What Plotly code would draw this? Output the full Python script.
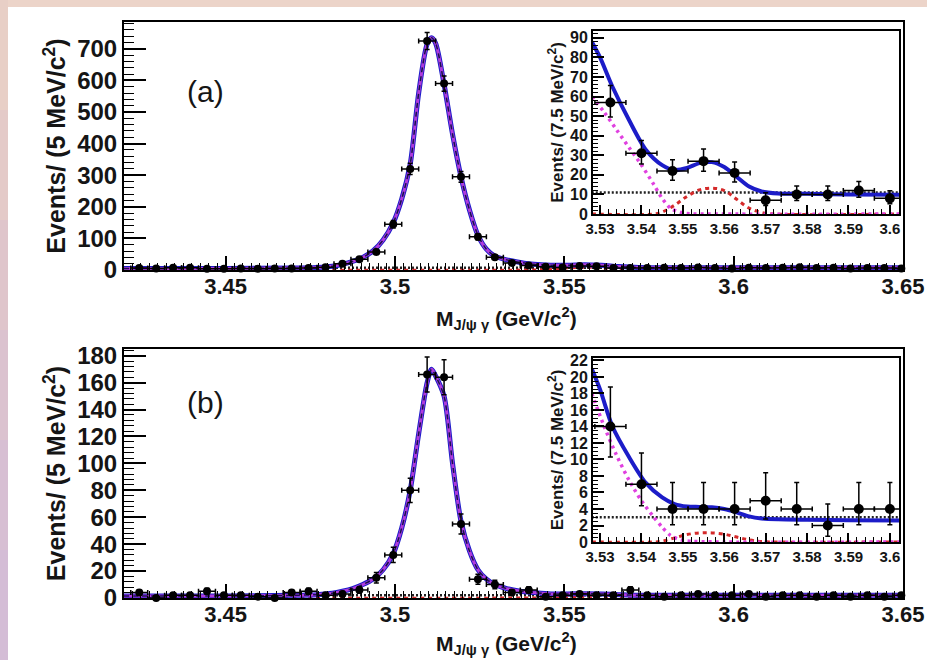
import plotly.graph_objects as go

# ---------------- data ----------------
# main panels: 5 MeV bins
bins5 = [3.4245, 3.4295, 3.4345, 3.4395, 3.4445, 3.4495, 3.4545, 3.4595, 3.4645, 3.4695,
         3.4745, 3.4795, 3.4845, 3.4895, 3.4945, 3.4995, 3.5045, 3.5095, 3.5145, 3.5195,
         3.5245, 3.5295, 3.5345, 3.5395, 3.5445, 3.5495, 3.5545, 3.5595, 3.5645, 3.5695,
         3.5745, 3.5795, 3.5845, 3.5895, 3.5945, 3.5995, 3.6045, 3.6095, 3.6145, 3.6195,
         3.6245, 3.6295, 3.6345, 3.6395, 3.6445, 3.6495]

counts_a = [6, 5, 7, 7, 4, 4, 5, 4, 5, 5, 6, 9,
            20, 34, 57, 145, 320, 725, 590, 295, 105, 40,
            22, 14, 10, 8, 13, 12, 6, 6,
            6, 7, 6, 8, 6, 5, 7, 6, 7, 9, 6, 7, 5, 6, 6, 5]
err_a = [2.4, 2.2, 2.6, 2.6, 2.0, 2.0, 2.2, 2.0, 2.2, 2.2, 2.4, 3.0,
         4.5, 5.8, 7.5, 12, 18, 27, 24, 17, 10, 6.3,
         4.7, 3.7, 3.2, 2.8, 3.6, 3.5, 2.4, 2.4,
         2.4, 2.6, 2.4, 2.8, 2.4, 2.2, 2.6, 2.4, 2.6, 3.0, 2.4, 2.6, 2.2, 2.4, 2.4, 2.2]

counts_b = [4, 0, 2, 2, 5, 2, 2, 1, 0, 4, 5, 2,
            3, 6, 15, 32, 80, 166, 164, 55, 14, 10,
            4, 6, 1, 2, 3, 2, 2, 6,
            2, 1, 2, 3, 2, 2, 3, 1, 2, 2, 1, 2, 1, 2, 1, 2]
err_b = [2.0, 1.1, 1.4, 1.4, 2.2, 1.4, 1.4, 1.0, 1.1, 2.0, 2.2, 1.4,
         1.7, 2.4, 3.9, 5.7, 9.0, 13, 13, 7.4, 3.7, 3.2,
         2.0, 2.4, 1.0, 1.4, 1.7, 1.4, 1.4, 2.4,
         1.4, 1.0, 1.4, 1.7, 1.4, 1.4, 1.7, 1.0, 1.4, 1.4, 1.0, 1.4, 1.0, 1.4, 1.0, 1.4]

# fit curves, main panels
curve_x = [3.42, 3.45, 3.47, 3.477, 3.4815, 3.4845, 3.4875, 3.4905, 3.4935, 3.4965,
           3.4995, 3.502, 3.5045, 3.507, 3.5095, 3.5108, 3.512, 3.5145, 3.517, 3.5195,
           3.522, 3.5245, 3.527, 3.5295, 3.533, 3.537, 3.541, 3.546, 3.551, 3.556,
           3.561, 3.566, 3.572, 3.58, 3.61, 3.65]
curve_a = [5, 5, 6, 8, 12, 18, 27, 40, 60, 95,
           150, 225, 335, 560, 715, 735, 718, 588, 430, 295,
           190, 110, 66, 44, 32, 24, 18, 15, 15, 17,
           15, 11, 8, 7, 7, 7]
curve_b = [1.5, 1.5, 2, 2.5, 3.5, 5, 7, 10, 14, 21,
           33, 52, 80, 122, 160, 170, 165, 150, 100, 57,
           35, 21, 14, 10, 7, 5, 4, 3, 3, 3.2,
           3, 2.5, 2, 2, 2, 2]
sig2_x = [3.42, 3.54, 3.545, 3.55, 3.555, 3.558, 3.562, 3.567, 3.572, 3.65]
sig2_a = [0, 0, 1.5, 6, 8.7, 8.5, 6, 2, 0, 0]
sig2_b = [0, 0, 0.2, 0.6, 0.8, 0.8, 0.6, 0.2, 0, 0]
bkg_x = [3.42, 3.65]
bkg_a = [7, 7]
bkg_b = [2, 2]

# insets: 7.5 MeV bins
bins75 = [3.5325, 3.54, 3.5475, 3.555, 3.5625, 3.57, 3.5775, 3.585, 3.5925, 3.60]
ins_a = [57, 31, 22, 27, 21, 7, 10, 10, 12, 8]
ins_a_up = [8.6, 6.6, 5.7, 6.2, 5.6, 3.8, 4.3, 4.3, 4.6, 3.9]
ins_a_dn = [7.5, 5.5, 4.7, 5.2, 4.6, 2.6, 3.1, 3.1, 3.4, 2.8]
ins_b = [14, 7, 4, 4, 4, 5, 4, 2, 4, 4]
ins_b_up = [4.8, 3.8, 3.2, 3.2, 3.2, 3.4, 3.2, 2.6, 3.2, 3.2]
ins_b_dn = [3.7, 2.6, 1.9, 1.9, 1.9, 2.2, 1.9, 1.3, 1.9, 1.9]

ins_tot_x = [3.528, 3.530, 3.533, 3.537, 3.541, 3.545, 3.548, 3.551, 3.554, 3.557,
             3.560, 3.563, 3.566, 3.569, 3.573, 3.580, 3.590, 3.603]
ins_tot_a = [88, 80, 65, 48, 33, 25, 22.5, 23.5, 26, 26.5,
             24, 19, 14, 11.5, 10.5, 10.3, 10.0, 9.8]
ins_tot_b = [21, 18.5, 14, 10.3, 7.2, 5.4, 4.6, 4.3, 4.25, 4.2,
             4.0, 3.6, 3.1, 2.85, 2.75, 2.7, 2.65, 2.6]
ins_c1_x = [3.528, 3.531, 3.534, 3.537, 3.540, 3.543, 3.545, 3.547, 3.550, 3.560, 3.603]
ins_c1_a = [60, 52, 43, 34, 25, 15, 8, 3, 0.5, 0, 0]
ins_c1_b = [18, 14, 10.5, 7.5, 5, 3, 1.8, 0.8, 0.2, 0, 0]
ins_c2_x = [3.528, 3.543, 3.545, 3.548, 3.551, 3.554, 3.557, 3.560, 3.563, 3.566, 3.569, 3.572, 3.603]
ins_c2_a = [0, 0, 1, 4.5, 9, 12.3, 13.2, 12, 7.5, 3, 0.8, 0, 0]
ins_c2_b = [0, 0, 0.1, 0.5, 0.9, 1.1, 1.1, 0.95, 0.6, 0.25, 0.05, 0, 0]
ins_bkg_x = [3.528, 3.603]
ins_bkg_a = [11, 11]
ins_bkg_b = [3, 3]

main_ticks = [3.45, 3.5, 3.55, 3.6, 3.65]
main_ticktext = ["3.45", "3.5", "3.55", "3.6", "3.65"]
ins_ticks = [3.53, 3.54, 3.55, 3.56, 3.57, 3.58, 3.59, 3.6]
ins_ticktext = ["3.53", "3.54", "3.55", "3.56", "3.57", "3.58", "3.59", "3.6"]

# ---------------- figure ----------------
W, H = 927, 660
FONT = "Liberation Sans"
BLUE = "#1c1cc8"
MAGENTA = "#e040e0"
RED = "#d42a2a"
TXT = "#151515"

fig = go.Figure()


def px(v):
    return v / W


def py(v):
    return 1 - v / H


def add_curves(cx, cy, xa, ya, main, c1x=None, c1y=None, c2x=None, c2y=None, bx=None, by=None):
    common = dict(mode="lines", xaxis=xa, yaxis=ya, showlegend=False, hoverinfo="skip")
    if bx is not None:
        fig.add_trace(go.Scatter(x=bx, y=by, line=dict(color="#222222", width=2.5, dash="2px,2px"), **common))
    if c2x is not None:
        fig.add_trace(go.Scatter(x=c2x, y=c2y, line=dict(color=RED, width=3, dash="4px,4px", shape="spline"), **common))
    fig.add_trace(go.Scatter(x=cx, y=cy, line=dict(color=BLUE, width=5 if main else 4, shape="spline", smoothing=0.8), **common))
    if c1x is not None:
        fig.add_trace(go.Scatter(x=c1x, y=c1y, line=dict(color=MAGENTA, width=3.5, dash="3px,4px", shape="spline", smoothing=0.8), **common))
    if main:
        fig.add_trace(go.Scatter(x=cx, y=cy, line=dict(color="rgba(226,70,226,0.75)", width=3, shape="spline", smoothing=0.8), **common))
        fig.add_trace(go.Scatter(x=cx, y=cy, line=dict(color="#141450", width=1.5, dash="5px,4px", shape="spline", smoothing=0.8), **common))


def add_data(x, y, up, dn, xhalf, xa, ya, msize):
    fig.add_trace(go.Scatter(
        x=x, y=y, mode="markers", xaxis=xa, yaxis=ya, showlegend=False, cliponaxis=False,
        marker=dict(color="black", size=msize),
        error_x=dict(type="constant", value=xhalf, color="black", thickness=1.5, width=2.5),
        error_y=dict(type="data", array=up, arrayminus=dn, symmetric=False,
                     color="black", thickness=1.5, width=2.5)))


# main (a)
add_curves(curve_x, curve_a, "x", "y", True, c2x=sig2_x, c2y=sig2_a, bx=bkg_x, by=bkg_a)
add_data(bins5, counts_a, err_a, err_a, 0.0025, "x", "y", 8)
# inset (a)
add_curves(ins_tot_x, ins_tot_a, "x2", "y2", False, c1x=ins_c1_x, c1y=ins_c1_a,
           c2x=ins_c2_x, c2y=ins_c2_a, bx=ins_bkg_x, by=ins_bkg_a)
add_data(bins75, ins_a, ins_a_up, ins_a_dn, 0.00375, "x2", "y2", 10)
# main (b)
add_curves(curve_x, curve_b, "x3", "y3", True, c2x=sig2_x, c2y=sig2_b, bx=bkg_x, by=bkg_b)
add_data(bins5, counts_b, err_b, err_b, 0.0025, "x3", "y3", 8)
# inset (b)
add_curves(ins_tot_x, ins_tot_b, "x4", "y4", False, c1x=ins_c1_x, c1y=ins_c1_b,
           c2x=ins_c2_x, c2y=ins_c2_b, bx=ins_bkg_x, by=ins_bkg_b)
add_data(bins75, ins_b, ins_b_up, ins_b_dn, 0.00375, "x4", "y4", 10)

xtitle = "M<sub>J/ψ γ</sub> (GeV/c<sup>2</sup>)"


def axis_common():
    return dict(showgrid=False, zeroline=False, showline=True, linecolor="black", linewidth=2,
                mirror=True, ticks="inside", tickcolor="black", tickwidth=1.5)


def main_x(anchor):
    d = axis_common()
    d.update(domain=[px(124), px(903)], anchor=anchor, range=[3.42, 3.65],
             tickvals=main_ticks, ticktext=main_ticktext, ticklen=14, ticklabelstandoff=-4,
             minor=dict(ticks="inside", ticklen=7, dtick=0.0025, tickcolor="black", tickwidth=1),
             tickfont=dict(family=FONT, size=22, color=TXT, weight="bold"))
    return d


def main_y(anchor, dom, rng, dtick, minor, title):
    d = axis_common()
    d.update(domain=dom, anchor=anchor, range=rng, dtick=dtick, tick0=0, ticklen=22,
             minor=dict(ticks="inside", ticklen=10, dtick=minor, tickcolor="black", tickwidth=1),
             tickfont=dict(family=FONT, size=24, color=TXT, weight="bold"),
             title=dict(text=title, font=dict(family=FONT, size=25, color=TXT, weight="bold"), standoff=4))
    return d


def ins_x(anchor):
    d = axis_common()
    d.update(domain=[px(593), px(899)], anchor=anchor, range=[3.5283, 3.6022],
             tickvals=ins_ticks, ticktext=ins_ticktext, ticklen=9,
             minor=dict(ticks="inside", ticklen=5, dtick=0.002, tickcolor="black", tickwidth=1),
             tickfont=dict(family=FONT, size=15, color=TXT, weight="bold"))
    return d


def ins_y(anchor, dom, rng, dtick, minor, title):
    d = axis_common()
    d.update(domain=dom, anchor=anchor, range=rng, dtick=dtick, tick0=0, ticklen=11,
             minor=dict(ticks="inside", ticklen=5, dtick=minor, tickcolor="black", tickwidth=1),
             tickfont=dict(family=FONT, size=16, color=TXT, weight="bold"),
             title=dict(text=title, font=dict(family=FONT, size=17, color=TXT, weight="bold"), standoff=2))
    return d


ytitle_main = "Events/ (5 MeV/c<sup>2</sup>)"
ytitle_ins = "Events/ (7.5 MeV/c<sup>2</sup>)"

fig.update_layout(
    width=W, height=H, margin=dict(l=0, r=0, t=0, b=0),
    paper_bgcolor="white", plot_bgcolor="white", template="none",
    showlegend=False,
    xaxis=main_x("y"),
    yaxis=main_y("x", [py(270), py(22)], [0, 785], 100, 20, ytitle_main),
    xaxis2=ins_x("y2"),
    yaxis2=ins_y("x2", [py(214), py(31)], [0, 93.5], 10, 2, ytitle_ins),
    xaxis3=main_x("y3"),
    yaxis3=main_y("x3", [py(598), py(349)], [0, 185], 20, 4, ytitle_main),
    xaxis4=ins_x("y4"),
    yaxis4=ins_y("x4", [py(542), py(358)], [0, 22.3], 2, 0.5, ytitle_ins),
)

# x-axis titles placed as text below each main panel
for yc, anchor in ((py(318), "middle"), (py(660), "bottom")):
    fig.add_annotation(x=px(506), y=yc, xref="paper", yref="paper", text=xtitle, showarrow=False,
                       yanchor=anchor, font=dict(family=FONT, size=21, color=TXT, weight="bold"))

fig.add_annotation(x=px(185), y=py(73), xref="paper", yref="paper", text="(a)", showarrow=False,
                   font=dict(family=FONT, size=30, color=TXT))
fig.add_annotation(x=px(185), y=py(402), xref="paper", yref="paper", text="(b)", showarrow=False,
                   font=dict(family=FONT, size=30, color=TXT))

# decorative page border (pink / lavender gradient frame)
fig.add_shape(type="rect", xref="paper", yref="paper", x0=0, x1=1, y0=py(7), y1=1,
              fillcolor="#ecd4c9", line_width=0, layer="below")
left_cols = ["#e8cfc6", "#e4cac8", "#dfc5cb", "#dbc2cf", "#d7bfd3", "#d4bdd6"]
n = len(left_cols)
for i, c in enumerate(left_cols):
    fig.add_shape(type="rect", xref="paper", yref="paper", x0=0, x1=px(8),
                  y0=1 - (i + 1) / n, y1=1 - i / n, fillcolor=c, line_width=0, layer="below")

fig.write_html("out.html")
